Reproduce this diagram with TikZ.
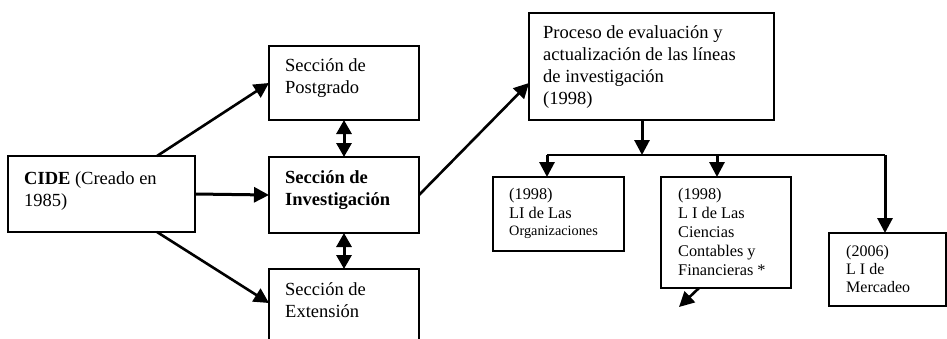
\documentclass[tikz,border=0pt]{standalone}
\usepackage{fontspec}
\setmainfont{Liberation Serif}
\usetikzlibrary{arrows.meta}
\begin{document}
\begin{tikzpicture}[x=1pt,y=-1pt,
  box/.style={draw,line width=1.6pt,inner sep=0pt,outer sep=0pt,anchor=north west},
  big/.style={anchor=base west,inner sep=0pt,align=left,font=\fontsize{18.5}{21.5}\selectfont},
  small/.style={anchor=base west,inner sep=0pt,align=left,font=\fontsize{16.3}{18.8}\selectfont},
  arr/.style={line width=2.6pt,-{Triangle[length=15pt,width=15pt]}},
  darr/.style={line width=3pt,{Triangle[length=14pt,width=15pt]}-{Triangle[length=14pt,width=15pt]}},
  tree/.style={line width=3pt,line join=miter,-{Triangle[length=15pt,width=15pt]}}
]
\useasboundingbox (0,0) rectangle (947,338);
\clip (0,0) rectangle (947,338);
% boxes
\node[box,minimum width=187pt,minimum height=76pt] (cide) at (8,156) {};
\node[box,minimum width=150pt,minimum height=74pt] (post) at (269,46) {};
\node[box,minimum width=150pt,minimum height=76pt] (inv) at (269,157) {};
\node[box,minimum width=150pt,minimum height=80pt] (ext) at (269,269) {};
\node[box,minimum width=245pt,minimum height=107pt] (proc) at (529,13) {};
\node[box,minimum width=131pt,minimum height=74pt] (org) at (493,177) {};
\node[box,minimum width=130pt,minimum height=111pt] (cie) at (661,177) {};
\node[box,minimum width=117pt,minimum height=73pt] (mer) at (829,233) {};
% texts (anchored at the baseline of their last line)
\node[big] (tcide) at (24,206) {\textbf{CIDE} (Creado en\\1985)};
\node[big] (tpost) at (285,93) {Sección de\\Postgrado};
\node[big,font=\fontsize{18.5}{21.5}\selectfont\bfseries] (tinv) at (285,205) {Sección de\\Investigación};
\node[big] (text) at (285,317) {Sección de\\Extensión};
\node[big,font=\fontsize{18.5}{22}\selectfont] (tproc) at (543,104) {Proceso de evaluación y\\actualización de las líneas\\de investigación\\(1998)};
\node[small] (torg) at (509,235) {(1998)\\LI de Las\\[-2pt]{\fontsize{14.3}{17}\selectfont Organizaciones}};
\node[small] (tcie) at (678,275) {(1998)\\L I de Las\\Ciencias\\Contables y\\Financieras *};
\node[small,font=\fontsize{16}{18}\selectfont] (tmer) at (846,292) {(2006)\\L I de\\Mercadeo};
% coordinates
\coordinate (bJ) at (642,155);
\coordinate (bL) at (547,155);
\coordinate (bM) at (717,155);
\coordinate (bR) at (885,155);
\coordinate (dEnd) at (679,307);
% connectors
\draw[arr] ([xshift=-38pt]cide.north east) -- (post.west);
\draw[arr,line width=3pt] (cide.east) -- (inv.west);
\draw[arr] ([xshift=-38pt]cide.south east) -- ([yshift=-34pt]ext.north west);
\draw[darr] (post.south) -- (inv.north);
\draw[darr] (inv.south) -- (ext.north);
\draw[arr] (inv.east) -- ([yshift=-16.5pt]proc.west);
\draw[tree] ([xshift=-9.5pt]proc.south) -- (bJ);
\draw[line width=2.3pt] (bL) -- (bR);
\draw[tree] (bL) -- (bL |- org.north);
\draw[tree] (bM) -- (bM |- cie.north);
\draw[tree] (bR) -- (bR |- mer.north);
\draw[arr] ([xshift=38pt]cie.south west) -- (dEnd);
\end{tikzpicture}
\end{document}
